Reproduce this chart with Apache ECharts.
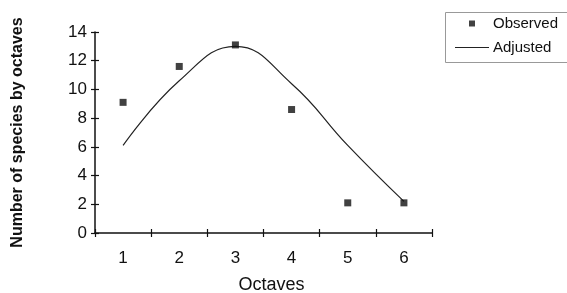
<!DOCTYPE html>
<html>
<head>
<meta charset="utf-8">
<script src="https://cdn.jsdelivr.net/npm/echarts@6/dist/echarts.min.js"></script>
<style>
  html, body { margin: 0; padding: 0; background: #fff; }
  #main { width: 567px; height: 293px; }
</style>
</head>
<body>
<div id="main"></div>
<script>
// octave classes
var octaves = ['1', '2', '3', '4', '5', '6'];
// observed number of species per octave
var observed = [9.1, 11.6, 13.1, 8.6, 2.1, 2.1];
// adjusted (fitted) curve
var adjusted = [6.1, 10.6, 13.0, 10.4, 6.1, 2.2];
var yTicks = [0, 2, 4, 6, 8, 10, 12, 14];

var font = 'Liberation Sans, Arial, sans-serif';
var myChart = echarts.init(document.getElementById('main'));

myChart.setOption({
	animation: false,
	grid: { left: 95, right: 135, top: 32, bottom: 60, outerBoundsMode: 'none', containLabel: false },
	xAxis: [{
		type: 'category',
		data: octaves,
		boundaryGap: true,
		name: 'Octaves',
		nameLocation: 'middle',
		nameGap: 43,
		nameTextStyle: { fontFamily: font, fontSize: 18, color: '#111', padding: [0, 0, 0, 16] },
		axisLine: { lineStyle: { color: '#111', width: 1.5 } },
		axisTick: { show: true, length: 4, lineStyle: { color: '#111', width: 1.2 } },
		axisLabel: { fontFamily: font, fontSize: 17, color: '#111', margin: 17 },
		splitLine: { show: false }
	}, {
		// inner half of the crossing ticks
		type: 'category',
		data: octaves,
		position: 'bottom',
		boundaryGap: true,
		axisLine: { show: false },
		axisTick: { show: true, inside: true, length: 4, lineStyle: { color: '#111', width: 1.2 } },
		axisLabel: { show: false },
		splitLine: { show: false }
	}],
	yAxis: [{
		type: 'value',
		min: yTicks[0],
		max: yTicks[yTicks.length - 1],
		interval: 2,
		name: 'Number of species by octaves',
		nameLocation: 'middle',
		nameGap: 69,
		nameTextStyle: { fontFamily: font, fontSize: 16, fontWeight: 'bold', color: '#111' },
		axisLine: { show: true, lineStyle: { color: '#111', width: 1.5 } },
		axisTick: { show: true, length: 4, lineStyle: { color: '#111', width: 1.2 } },
		axisLabel: { fontFamily: font, fontSize: 17, color: '#111', margin: 8 },
		splitLine: { show: false }
	}, {
		type: 'value',
		min: yTicks[0],
		max: yTicks[yTicks.length - 1],
		interval: 2,
		position: 'left',
		axisLine: { show: false },
		axisTick: { show: true, inside: true, length: 4, lineStyle: { color: '#111', width: 1.2 } },
		axisLabel: { show: false },
		splitLine: { show: false }
	}],
	legend: [{
		data: [{ name: 'Observed', icon: 'rect' }],
		left: 469,
		top: 16,
		itemWidth: 6,
		itemHeight: 6,
		padding: 0,
		textStyle: { fontFamily: font, fontSize: 15, color: '#111', padding: [0, 0, 0, 13] }
	}, {
		data: [{ name: 'Adjusted', icon: 'rect' }],
		left: 455,
		top: 40,
		itemWidth: 34,
		itemHeight: 1.2,
		padding: 0,
		itemStyle: { color: '#222' },
		textStyle: { fontFamily: font, fontSize: 15, color: '#111', padding: [0, 0, 0, -1] }
	}],
	graphic: [{
		type: 'rect',
		shape: { x: 445.5, y: 12.5, width: 130, height: 50 },
		style: { fill: 'none', stroke: '#999', lineWidth: 1 }
	}],
	series: [{
		name: 'Adjusted',
		type: 'line',
		smooth: 0.45,
		symbol: 'none',
		data: adjusted,
		lineStyle: { color: '#222', width: 1.2 },
		itemStyle: { color: '#222' },
		z: 2
	}, {
		name: 'Observed',
		type: 'scatter',
		symbol: 'rect',
		symbolSize: 7,
		data: observed,
		itemStyle: { color: '#111' },
		z: 3
	}]
});
</script>
</body>
</html>
